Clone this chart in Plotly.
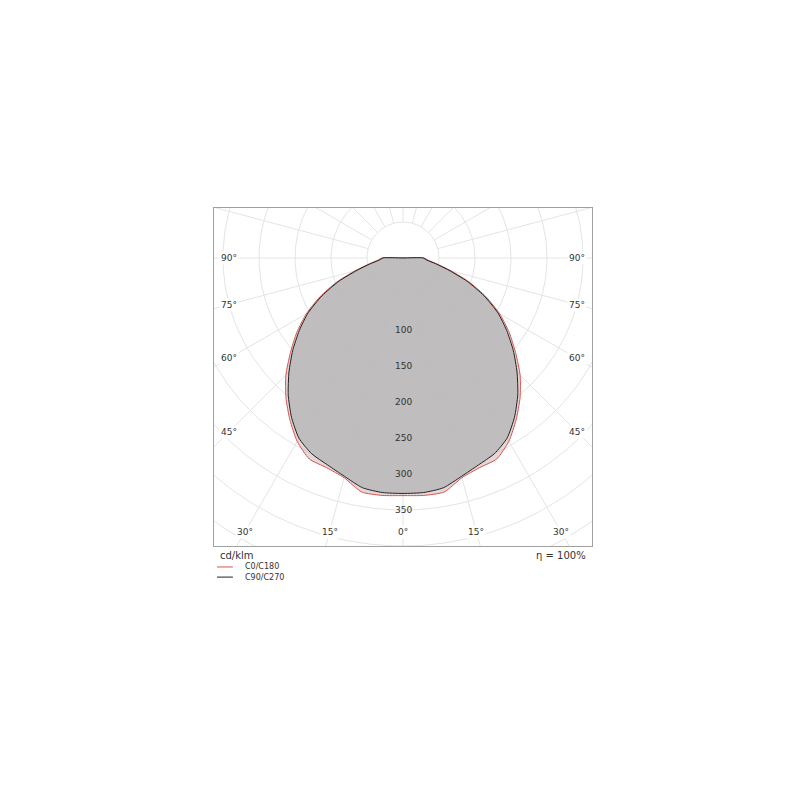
import numpy as np
import plotly.graph_objects as go

# luminous intensity (cd/klm) vs. gamma angle, symmetric planes
gamma = [0, 5, 10, 15, 20, 25, 30, 35, 40, 45, 50, 55, 60, 65, 70, 75, 80, 85, 90]
c0_c180 = [330, 331, 330, 316, 310, 308, 294, 274, 253, 230, 204, 180, 155, 127, 98, 69, 48, 35, 29]
c90_c270 = [327, 327, 324, 314, 306, 300, 289, 270, 248, 224, 200, 176, 152, 124, 95, 66, 46, 33, 28]

grid_radii = [50, 100, 150, 200, 250, 300, 350, 400, 450, 500]
grid_angles = list(range(0, 360, 15))
radial_labels = [100, 150, 200, 250, 300, 350]
side_labels = [90, 75, 60, 45]
bottom_labels = [30, 15, 0]

RED = "#d9534f"
DARK = "#222222"
GRID = "#e4e4e4"
TEXT = "#333333"
FONT = "DejaVu Sans"


def outline(values):
    g = np.radians(gamma)
    r = np.array(values, dtype=float)
    # left half (C180/C270) from 90 deg down to 0, then right half (C0/C90)
    xl = -r[::-1] * np.sin(g[::-1])
    yl = -r[::-1] * np.cos(g[::-1])
    xr = r[1:] * np.sin(g[1:])
    yr = -r[1:] * np.cos(g[1:])
    x = np.concatenate([[0], xl, xr, [0]])
    y = np.concatenate([[0], yl, yr, [0]])
    return x, y


fig = go.Figure()

# grid circles
t = np.linspace(0, 2 * np.pi, 361)
gx, gy = [], []
for r in grid_radii:
    gx += list(r * np.cos(t)) + [None]
    gy += list(r * np.sin(t)) + [None]
fig.add_trace(go.Scatter(x=gx, y=gy, mode="lines", line=dict(color=GRID, width=1),
                         hoverinfo="skip", showlegend=False))

# radial lines, starting at the innermost circle
rx, ry = [], []
for a in grid_angles:
    ar = np.radians(a)
    rx += [grid_radii[0] * np.sin(ar), 700 * np.sin(ar), None]
    ry += [-grid_radii[0] * np.cos(ar), -700 * np.cos(ar), None]
fig.add_trace(go.Scatter(x=rx, y=ry, mode="lines", line=dict(color=GRID, width=1),
                         hoverinfo="skip", showlegend=False))

# curves
x0, y0 = outline(c0_c180)
fig.add_trace(go.Scatter(x=x0, y=y0, mode="lines", fill="toself", name="C0/C180",
                         fillcolor="rgba(190,150,150,0.38)",
                         line=dict(color=RED, width=1, shape="spline", smoothing=0.6),
                         hoverinfo="skip", showlegend=False))
x90, y90 = outline(c90_c270)
fig.add_trace(go.Scatter(x=x90, y=y90, mode="lines", fill="toself", name="C90/C270",
                         fillcolor="rgba(186,186,186,0.9)",
                         line=dict(color=DARK, width=1, shape="spline", smoothing=0.6),
                         hoverinfo="skip", showlegend=False))

ann = []
for v in radial_labels:
    ann.append(dict(x=0, y=-v, text=str(v), showarrow=False,
                    font=dict(size=9, color=TEXT, family=FONT)))
edge = 241.5
for a in side_labels:
    ar = np.radians(a)
    yv = -edge * np.cos(ar) / np.sin(ar)
    for s in (-1, 1):
        ann.append(dict(x=s * edge, y=yv, text=f"{a}°", showarrow=False, bgcolor="white",
                        font=dict(size=9, color=TEXT, family=FONT)))
low = 380.6
for a in bottom_labels:
    xv = low * np.tan(np.radians(a))
    for s in ((-1, 1) if a else (1,)):
        ann.append(dict(x=s * xv, y=-low, text=f"{a}°", showarrow=False, bgcolor="white",
                        font=dict(size=9, color=TEXT, family=FONT)))

ann.append(dict(xref="paper", yref="paper", x=0.01, y=-0.005, xanchor="left", yanchor="top",
                text="cd/klm", showarrow=False, font=dict(size=10, color=TEXT, family=FONT)))
ann.append(dict(xref="paper", yref="paper", x=0.99, y=-0.005, xanchor="right", yanchor="top",
                text="η = 100%", showarrow=False, font=dict(size=10, color=TEXT, family=FONT)))

# small legend under the diagram
shapes = []
for i, (name, col) in enumerate([("C0/C180", RED), ("C90/C270", DARK)]):
    yl = -0.062 - i * 0.03
    shapes.append(dict(type="line", xref="paper", yref="paper", x0=0.008, x1=0.05,
                       y0=yl, y1=yl, line=dict(color=col, width=1)))
    ann.append(dict(xref="paper", yref="paper", x=0.077, y=yl, xanchor="left", yanchor="middle",
                    text=name, showarrow=False, font=dict(size=8, color=TEXT, family=FONT)))

fig.update_layout(
    width=800, height=800,
    margin=dict(l=206, r=216, t=200, b=262),
    paper_bgcolor="white", plot_bgcolor="white",
    showlegend=False,
    annotations=ann,
    shapes=shapes,
    xaxis=dict(range=[-262.5, 262.5], showgrid=False, zeroline=False, showticklabels=False,
               ticks="", showline=True, mirror=True, linecolor="#a0a0a0", linewidth=1),
    yaxis=dict(range=[-400, 69.4], showgrid=False, zeroline=False, showticklabels=False,
               ticks="", showline=True, mirror=True, linecolor="#a0a0a0", linewidth=1),
)

fig.write_html("out.html")
